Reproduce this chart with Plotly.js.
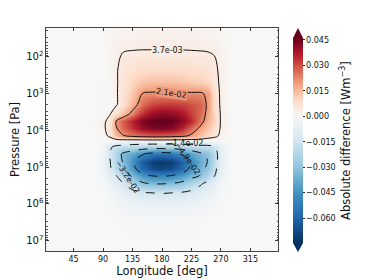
<!DOCTYPE html>
<html><head><meta charset="utf-8">
<script src="https://cdn.plot.ly/plotly-3.0.1.min.js"></script>
<style>html,body{margin:0;padding:0;background:#fff}#chart{width:374px;height:280px}</style>
</head><body><div id="chart"></div>
<script>
// Longitude [deg] of grid columns
const longitudes = [0, 75, 90, 100, 110, 120, 135, 150, 165, 180, 195, 210, 225, 240, 250, 260, 270, 285, 360];
// Pressure [Pa] of grid rows
const pressures = [10, 25.1, 63.1, 199.5, 501, 1000, 1995, 3548, 5623, 8913, 14125, 19953, 28184, 44668, 70795, 112202, 177828, 281838, 501187, 1000000, 2512000, 10000000, 31620000];
// Absolute difference [W m^-3], one row per pressure level
const absDiff = [
  [0,0,0,0.0002,0.0004,0.0005,0.0006,0.0006,0.0006,0.0006,0.0006,0.0006,0.0006,0.0005,0.0005,0.0004,0.0002,0,0],
  [0,0,0,0.0006,0.0012,0.0016,0.0018,0.0019,0.002,0.002,0.002,0.002,0.0019,0.0018,0.0017,0.0014,0.0008,0,0],
  [0,0,0,0.001,0.0025,0.0033,0.0035,0.0036,0.0036,0.0036,0.0036,0.0036,0.0035,0.0034,0.0033,0.003,0.0015,0,0],
  [0,0,0,0.001,0.003,0.0055,0.0068,0.0075,0.0078,0.0078,0.0078,0.0075,0.0072,0.0068,0.0062,0.005,0.0022,0,0],
  [0,0,-0.0005,0.0005,0.003,0.006,0.01,0.013,0.014,0.014,0.014,0.013,0.012,0.011,0.0095,0.006,0.0025,0,0],
  [0,0,-0.001,0,0.003,0.0065,0.013,0.021,0.022,0.022,0.022,0.022,0.022,0.022,0.019,0.008,0.0025,0,0],
  [0,0,-0.0015,-0.0005,0.003,0.007,0.016,0.026,0.031,0.033,0.033,0.032,0.03,0.027,0.019,0.009,0.0025,0,0],
  [0,0,0.0005,0.003,0.008,0.014,0.024,0.034,0.04,0.042,0.041,0.038,0.032,0.026,0.018,0.01,0.003,0,0],
  [0,0,0.002,0.006,0.021,0.028,0.036,0.043,0.046,0.047,0.046,0.042,0.035,0.024,0.016,0.011,0.003,0,0],
  [0,0,0.002,0.007,0.02,0.027,0.034,0.04,0.043,0.044,0.042,0.036,0.027,0.018,0.013,0.008,0.003,0,0],
  [0,0,0.001,0.005,0.014,0.02,0.024,0.026,0.027,0.027,0.026,0.024,0.019,0.013,0.009,0.006,0.002,0,0],
  [0,0,0,-0.001,-0.002,-0.003,-0.004,-0.004,-0.004,-0.004,-0.004,-0.004,-0.004,-0.003,-0.003,-0.002,-0.001,0,0],
  [0,0,-0.002,-0.012,-0.017,-0.019,-0.021,-0.023,-0.024,-0.024,-0.024,-0.023,-0.021,-0.019,-0.018,-0.016,-0.006,0,0],
  [0,0,-0.003,-0.014,-0.022,-0.034,-0.04,-0.048,-0.054,-0.056,-0.054,-0.048,-0.041,-0.034,-0.03,-0.02,-0.007,0,0],
  [0,0,-0.004,-0.013,-0.022,-0.032,-0.046,-0.062,-0.07,-0.073,-0.07,-0.062,-0.048,-0.037,-0.031,-0.02,-0.007,0,0],
  [0,0,-0.004,-0.012,-0.02,-0.03,-0.044,-0.058,-0.066,-0.068,-0.066,-0.058,-0.045,-0.034,-0.029,-0.018,-0.006,0,0],
  [0,0,-0.002,-0.008,-0.013,-0.021,-0.033,-0.043,-0.048,-0.049,-0.047,-0.042,-0.035,-0.03,-0.022,-0.014,-0.004,0,0],
  [0,0,-0.001,-0.004,-0.008,-0.013,-0.022,-0.029,-0.032,-0.032,-0.031,-0.028,-0.022,-0.015,-0.01,-0.006,-0.002,0,0],
  [0,0,0,-0.002,-0.004,-0.006,-0.01,-0.013,-0.014,-0.0145,-0.014,-0.013,-0.011,-0.008,-0.006,-0.004,-0.001,0,0],
  [0,0,0,-0.001,-0.002,-0.003,-0.004,-0.005,-0.005,-0.005,-0.005,-0.005,-0.004,-0.003,-0.002,-0.002,-0.0005,0,0],
  [0,0,0,0,-0.0005,-0.001,-0.0015,-0.0015,-0.0015,-0.0015,-0.0015,-0.0015,-0.0015,-0.001,-0.0005,-0.0005,0,0,0],
  [0,0,0,0,0,0,0,0,0,0,0,0,0,0,0,0,0,0,0],
  [0,0,0,0,0,0,0,0,0,0,0,0,0,0,0,0,0,0,0]
];
const positiveLevels = [0.0037, 0.021];
const negativeLevels = [-0.049, -0.0315, -0.014];
const contourLabels = ['3.7e-03', '2.1e-02', '\u22121.4e-02', '\u22124.9e-02', '\u22123.2e-02'];
const xTickVals = [45, 90, 135, 180, 225, 270, 315];
const cbTickVals = [0.045, 0.030, 0.015, 0.000, -0.015, -0.030, -0.045, -0.060];
const zMin = -0.0746, zMax = 0.046;

// RdBu_r, centred at zero
const blues = ['#053061','#2166ac','#4393c3','#92c5de','#d1e5f0','#f7f7f7'];
const reds = ['#f7f7f7','#fddbc7','#f4a582','#d6604d','#b2182b','#67001f'];
const z0 = -zMin / (zMax - zMin);
const colorscale = [];
blues.forEach((c, i) => colorscale.push([z0 * i / 5, c]));
reds.slice(1).forEach((c, i) => colorscale.push([z0 + (1 - z0) * (i + 1) / 5, c]));

const font = 'DejaVu Sans, sans-serif';
const heat = {
  type: 'heatmap', x: longitudes, y: pressures, z: absDiff, zsmooth: 'best',
  zmin: zMin, zmax: zMax, colorscale: colorscale, hoverinfo: 'skip',
  colorbar: {
    thickness: 10, thicknessmode: 'pixels', len: 205, lenmode: 'pixels',
    x: 1.0647, xanchor: 'left', xpad: 0, y: 0.4955, yanchor: 'middle', ypad: 0,
    outlinewidth: 0, tickmode: 'array', tickvals: cbTickVals, tickformat: '.3f',
    ticks: 'outside', ticklen: 2, tickcolor: '#222', tickfont: {family: font, size: 8, color: '#111'},
    title: {text: 'Absolute difference [Wm<sup>\u22123</sup>]', side: 'right', font: {family: font, size: 11.5, color: '#111'}}
  }
};
function contourTrace(levels, dash) {
  const sz = levels.length > 1 ? levels[1] - levels[0] : 1;
  return {
    type: 'contour', x: longitudes, y: pressures, z: absDiff, showscale: false, hoverinfo: 'skip',
    autocontour: false,
    contours: {start: levels[0], end: levels[levels.length - 1], size: sz, coloring: 'none'},
    line: {color: '#111', width: 1, dash: dash, smoothing: 1}
  };
}
const posC = contourTrace(positiveLevels, 'solid');
const negC = contourTrace(negativeLevels, 'dash');

const lab = (i, x, ly, ang, bg) => ({
  text: contourLabels[i], x: x, y: ly, xref: 'x', yref: 'y', showarrow: false, textangle: ang,
  font: {family: font, size: 8, color: '#111'}, bgcolor: bg, borderpad: 0
});
const annotations = [
  lab(0, 188, 1.82, 0, 'rgb(249,236,228)'),
  lab(1, 195, 2.99, 8, 'rgb(236,150,120)'),
  lab(2, 214, 4.37, 0, 'rgba(0,0,0,0)'),
  lab(3, 219, 4.76, 55, 'rgba(0,0,0,0)'),
  lab(4, 128, 5.27, 57, 'rgba(0,0,0,0)')
];

const pp = (x, y) => x + ',' + y;
const xl = 1.0647, xr = 1.1078, xm = (xl + xr) / 2;
const shapes = [
  {type: 'path', xref: 'paper', yref: 'paper', path: 'M' + pp(xl, 0.955) + 'L' + pp(xm, 1.0) + 'L' + pp(xr, 0.955) + 'Z', fillcolor: '#67001f', line: {width: 0}},
  {type: 'path', xref: 'paper', yref: 'paper', path: 'M' + pp(xl, 0.0359) + 'L' + pp(xm, -0.0045) + 'L' + pp(xr, 0.0359) + 'Z', fillcolor: '#053061', line: {width: 0}}
];

const layout = {
  width: 374, height: 280, margin: {l: 46, r: 96, t: 28, b: 29},
  paper_bgcolor: '#fff', plot_bgcolor: '#f7f7f7', showlegend: false,
  font: {family: font, color: '#111'},
  xaxis: {
    range: [2.8125, 357.1875], tickmode: 'array', tickvals: xTickVals, ticks: 'inside', ticklen: 3,
    tickcolor: '#333', mirror: 'ticks', showline: true, linecolor: '#444', linewidth: 1, showgrid: false, zeroline: false,
    tickfont: {family: font, size: 8, color: '#111'},
    title: {text: 'Longitude [deg]', font: {family: font, size: 11.5, color: '#111'}, standoff: 4}
  },
  yaxis: {
    type: 'log', range: [7.28, 1.22], tickmode: 'linear', tick0: 0, dtick: 1, exponentformat: 'power',
    ticks: 'inside', ticklen: 3, tickcolor: '#333', mirror: 'ticks', showline: true, linecolor: '#444', linewidth: 1,
    showgrid: false, zeroline: false,
    minor: {ticks: 'inside', ticklen: 1.5, dtick: 'D1', tickcolor: '#555', showgrid: false},
    tickfont: {family: font, size: 8, color: '#111'},
    title: {text: 'Pressure [Pa]', font: {family: font, size: 11.5, color: '#111'}, standoff: 4}
  },
  annotations: annotations, shapes: shapes
};
Plotly.newPlot('chart', [heat, posC, negC], layout, {staticPlot: true, displayModeBar: false});
</script></body></html>
